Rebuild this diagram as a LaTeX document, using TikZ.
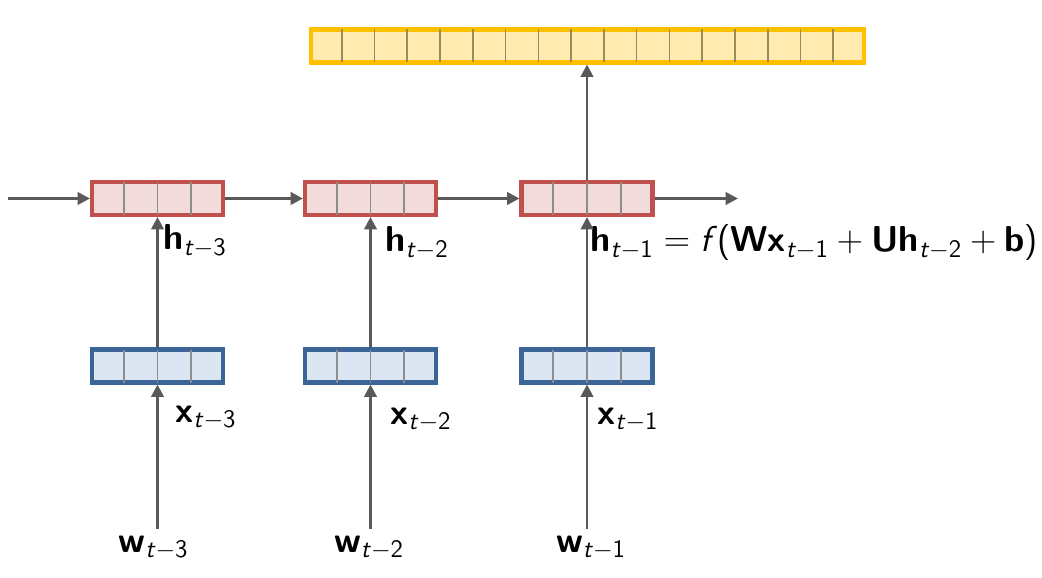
\documentclass[tikz,border=0pt]{standalone}
\usepackage{amsmath}
\usepackage{tikz}
\usetikzlibrary{calc,arrows.meta}

\definecolor{hborder}{HTML}{C0504D}
\definecolor{hfill}{HTML}{F2DCDB}
\definecolor{xborder}{HTML}{3B6597}
\definecolor{xfill}{HTML}{DCE6F2}
\definecolor{oborder}{HTML}{FFC000}
\definecolor{ofill}{HTML}{FFEBB0}
\definecolor{arrgray}{HTML}{595959}
\definecolor{cellgray}{HTML}{8C8C8C}
\definecolor{cellyellow}{HTML}{9C8B5A}

\newcommand{\bv}[1]{\textsf{\textbf{#1}}}
\newcommand{\tsub}[1]{_{\textsf{\textit{t}}-\textsf{#1}}}

\begin{document}
\begin{tikzpicture}
  \useasboundingbox (0, 0) rectangle (20.84, 11.54);

% styles
  \tikzset{vecbox/.style={rectangle,line width=2.3pt,minimum height=0.66cm,inner sep=0pt},
           hbox/.style={vecbox,draw=hborder,fill=hfill,minimum width=2.62cm},
           xbox/.style={vecbox,draw=xborder,fill=xfill,minimum width=2.62cm},
           obox/.style={vecbox,draw=oborder,fill=ofill,minimum width=11.06cm},
           arr/.style={arrgray,line width=1.6pt,-{Triangle[length=7pt,width=7pt]}},
           lab/.style={inner sep=0pt,font=\fontsize{20.5}{24}\selectfont}}

% output vector
  \node[obox] (out) at (11.75, 10.62) {};

% hidden states
  \node[hbox] (h3) at (3.15, 7.57) {};
  \node[hbox] (h2) at (7.41, 7.57) {};
  \node[hbox] (h1) at (11.74, 7.57) {};

% word vectors
  \node[xbox] (x3) at (3.15, 4.22) {};
  \node[xbox] (x2) at (7.41, 4.22) {};
  \node[xbox] (x1) at (11.74, 4.22) {};

% cells
  \foreach \b in {h3,h2,h1,x3,x2,x1}
    \foreach \i in {1,2,3}
      \draw[cellgray, line width=0.9pt, shorten >=1.15pt, shorten <=1.15pt]
        ($(\b.south west)!\i/4!(\b.south east)$) -- ($(\b.north west)!\i/4!(\b.north east)$);
  \foreach \i in {1,...,16}
    \draw[cellyellow, line width=0.9pt, shorten >=1.15pt, shorten <=1.15pt]
      ($(out.south west)!\i/17!(out.south east)$) -- ($(out.north west)!\i/17!(out.north east)$);

% words
  \node[lab, anchor=base] (w3) at (3.07, 0.50) {$\bv{w}\tsub{3}$};
  \node[lab, anchor=base] (w2) at (7.38, 0.50) {$\bv{w}\tsub{2}$};
  \node[lab, anchor=base] (w1) at (11.82, 0.50) {$\bv{w}\tsub{1}$};

% labels
  \node[lab, anchor=base west] (lx3) at (3.50, 3.10) {$\bv{x}\tsub{3}$};
  \node[lab, anchor=base west] (lx2) at (7.80, 3.06) {$\bv{x}\tsub{2}$};
  \node[lab, anchor=base west] (lx1) at (11.94, 3.06) {$\bv{x}\tsub{1}$};
  \node[lab, anchor=base west] (lh3) at (3.26, 6.54) {$\bv{h}\tsub{3}$};
  \node[lab, anchor=base west] (lh2) at (7.70, 6.50) {$\bv{h}\tsub{2}$};
  \node[lab, anchor=base west] (lh1) at (11.80, 6.50)
    {$\bv{h}\tsub{1} = \textsf{\textit{f}(}\bv{Wx}\tsub{1} + \bv{Uh}\tsub{2} + \bv{b}\textsf{)}$};

% arrows up
  \draw[arr] ($(w3.north -| x3.south)+(0,0.12)$) -- (x3.south);
  \draw[arr] ($(w2.north -| x2.south)+(0,0.12)$) -- (x2.south);
  \draw[arr] ($(w1.north -| x1.south)+(0,0.12)$) -- (x1.south);
  \draw[arr] (x3.north) -- (h3.south);
  \draw[arr] (x2.north) -- (h2.south);
  \draw[arr] (x1.north) -- (h1.south);
  \draw[arr] (h1.north) -- (h1.north |- out.south);

% recurrence
  \coordinate (hin) at (0.16, 7.57);
  \coordinate (hout) at (14.76, 7.57);
  \draw[arr] (hin) -- (h3.west);
  \draw[arr] (h3.east) -- (h2.west);
  \draw[arr] (h2.east) -- (h1.west);
  \draw[arr] (h1.east) -- (hout);
\end{tikzpicture}
\end{document}
